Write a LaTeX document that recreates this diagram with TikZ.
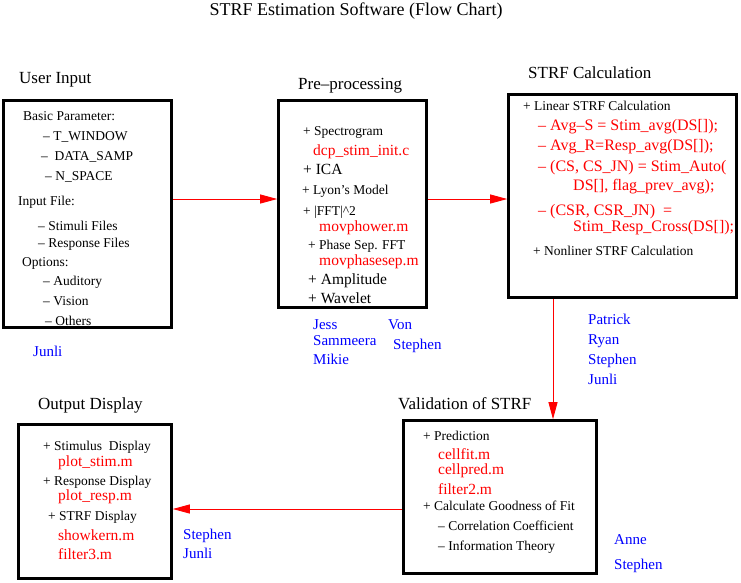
\documentclass[tikz,border=0pt]{standalone}
\usepackage{fontspec}
\setmainfont{Liberation Serif}
\usetikzlibrary{arrows.meta}
\tikzset{
	box/.style={draw,line width=2.6pt,inner sep=0pt},
	hd/.style={anchor=west,inner sep=0pt,yshift=-2.5pt,text height=.7em,text depth=.2em,font=\fontsize{17}{20}\selectfont},
	itm/.style={anchor=west,inner sep=0pt,yshift=-2.5pt,text height=.7em,text depth=.2em,font=\fontsize{13.5}{16}\selectfont},
	big/.style={itm,font=\fontsize{15.5}{18}\selectfont},
	code/.style={big,text=red},
	wide/.style={itm,text=red,font=\fontsize{16}{19}\selectfont},
	who/.style={itm,text=blue,font=\fontsize{15}{18}\selectfont},
	flow/.style={red,line width=0.9pt,-{Triangle[length=17pt,width=9pt]}}
}

\begin{document}
\begin{tikzpicture}[x=1pt,y=-1pt]
	\useasboundingbox (0,0) rectangle (741,582);
	\node[font=\fontsize{18}{21}\selectfont] (title) at (356,11) {STRF Estimation Software (Flow Chart)};
	% boxes
	\node[box,minimum width=168pt,minimum height=227pt] (user) at (87.5,214) {};
	\node[box,minimum width=148pt,minimum height=207pt] (pre) at (352.5,204) {};
	\node[box,minimum width=228pt,minimum height=203pt] (strf) at (622.5,196) {};
	\node[box,minimum width=153pt,minimum height=154pt] (out) at (95,501.5) {};
	\node[box,minimum width=193pt,minimum height=153pt] (valid) at (500,497) {};
	% headings
	\node[hd] (huser) at (19,78) {User Input};
	\node[hd] (hpre) at (298,84) {Pre–processing};
	\node[hd] (hstrf) at (528,73) {STRF Calculation};
	\node[hd] (hout) at (38,404) {Output Display};
	\node[hd] (hvalid) at (398,404) {Validation of STRF};
	% user input
	\begin{scope}
	\node[itm] (u1) at (23,115) {Basic Parameter:};
	\node[itm] (u2) at (43,135) {– T\_WINDOW};
	\node[itm] (u3) at (41,155) {–\ \ DATA\_SAMP};
	\node[itm] (u4) at (45,175) {– N\_SPACE};
	\node[itm] (u5) at (18,200) {Input File:};
	\node[itm] (u6) at (38,225) {– Stimuli Files};
	\node[itm] (u7) at (38,242) {– Response Files};
	\node[itm] (u8) at (22,261) {Options:};
	\node[itm] (u9) at (43,280) {– Auditory};
	\node[itm] (u10) at (43,300) {– Vision};
	\node[itm] (u11) at (45,320) {– Others};
	\node[who] (uw1) at (33,351) {Junli};
	\end{scope}
	% pre-processing
	\begin{scope}
	\node[itm] (p1) at (303,130) {+ Spectrogram};
	\node[code] (p2) at (313,150) {dcp\_stim\_init.c};
	\node[big] (p3) at (303,169) {+ ICA};
	\node[itm] (p4) at (302,189) {+ Lyon’s Model};
	\node[itm] (p5) at (303,210) {+ |FFT|\textasciicircum 2};
	\node[code] (p6) at (319,226) {movphower.m};
	\node[itm] (p7) at (308,244) {+ Phase Sep. FFT};
	\node[code] (p8) at (319,260) {movphasesep.m};
	\node[big] (p9) at (308,279) {+ Amplitude};
	\node[big] (p10) at (308,298) {+ Wavelet};
	\node[who] (pw1) at (313,324) {Jess};
	\node[who] (pw2) at (313,340) {Sammeera};
	\node[who] (pw3) at (313,359) {Mikie};
	\node[who] (pw4) at (388,324) {Von};
	\node[who] (pw5) at (393,344) {Stephen};
	\end{scope}
	% strf calculation
	\begin{scope}
	\node[itm] (s1) at (523,105) {+ Linear STRF Calculation};
	\node[wide] (s2) at (538,125) {– Avg–S = Stim\_avg(DS[]);};
	\node[wide] (s3) at (538,145) {– Avg\_R=Resp\_avg(DS[]);};
	\node[wide] (s4) at (538,166) {– (CS, CS\_JN) = Stim\_Auto(};
	\node[wide] (s5) at (573,185) {DS[], flag\_prev\_avg);};
	\node[wide] (s6) at (538,210) {– (CSR, CSR\_JN)\ \ =};
	\node[wide] (s7) at (573,226) {Stim\_Resp\_Cross(DS[]);};
	\node[itm] (s8) at (533,250) {+ Nonliner STRF Calculation};
	\node[who] (sw1) at (588,319) {Patrick};
	\node[who] (sw2) at (588,339) {Ryan};
	\node[who] (sw3) at (588,359) {Stephen};
	\node[who] (sw4) at (588,379) {Junli};
	\end{scope}
	% validation
	\begin{scope}
	\node[itm] (v1) at (423,435) {+ Prediction};
	\node[code] (v2) at (438,454) {cellfit.m};
	\node[code] (v3) at (438,469) {cellpred.m};
	\node[code] (v4) at (438,489) {filter2.m};
	\node[itm] (v5) at (423,505) {+ Calculate Goodness of Fit};
	\node[itm] (v6) at (438,525) {– Correlation Coefficient};
	\node[itm] (v7) at (438,545) {– Information Theory};
	\node[who] (vw1) at (614,539) {Anne};
	\node[who] (vw2) at (614,564) {Stephen};
	\end{scope}
	% output display
	\begin{scope}
	\node[itm] (o1) at (43,445) {+ Stimulus\ \ Display};
	\node[code] (o2) at (58,461) {plot\_stim.m};
	\node[itm] (o3) at (43,480) {+ Response Display};
	\node[code] (o4) at (58,495) {plot\_resp.m};
	\node[itm] (o5) at (48,515) {+ STRF Display};
	\node[code] (o6) at (58,535) {showkern.m};
	\node[code] (o7) at (58,554) {filter3.m};
	\node[who] (ow1) at (183,534) {Stephen};
	\node[who] (ow2) at (183,553) {Junli};
	\end{scope}
	% connectors
	\coordinate (r1) at (0,199);
	\coordinate (r2) at (0,509);
	\coordinate (c1) at (553,0);
	\draw[flow] (r1 -| user.east) -- (r1 -| pre.west);
	\draw[flow] (r1 -| pre.east) -- (r1 -| strf.west);
	\draw[flow] (c1 |- strf.south) -- (c1 |- valid.north);
	\draw[flow] (r2 -| valid.west) -- (r2 -| out.east);
\end{tikzpicture}
\end{document}
